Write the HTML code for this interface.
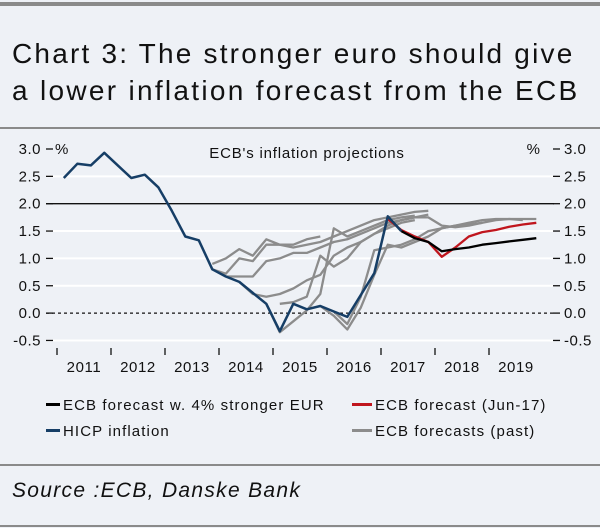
<!DOCTYPE html>
<html><head><meta charset="utf-8"><style>
body{margin:0;background:#eef1f6;}
#wrap{position:relative;width:600px;height:528px;background:#eef1f6;font-family:"Liberation Sans",sans-serif;overflow:hidden}
svg{position:absolute;left:0;top:0}
</style></head><body>
<div id="wrap">
<svg id="s" width="600" height="528">
<rect x="0" y="2" width="600" height="4" fill="#8a8a8a"/>
<text x="12" y="63" font-size="28" letter-spacing="2.2" fill="#111">Chart 3: The stronger euro should give</text>
<text x="12" y="100" font-size="28" letter-spacing="2.3" fill="#111">a lower inflation forecast from the ECB</text>
<rect x="0" y="127" width="600" height="2" fill="#8a8a8a"/>
<g id="plot"></g>
<text x="307" y="158" font-size="15" letter-spacing="0.8" text-anchor="middle" fill="#111">ECB's inflation projections</text>
<g font-size="15" letter-spacing="1.1" fill="#111">
<rect x="46" y="403" width="14" height="3" fill="#000"/>
<text x="63" y="410">ECB forecast w. 4% stronger EUR</text>
<rect x="352" y="403" width="20" height="3" fill="#c0161e"/>
<text x="375" y="410">ECB forecast (Jun-17)</text>
<rect x="46" y="429" width="14" height="3" fill="#163e66"/>
<text x="63" y="436">HICP inflation</text>
<rect x="352" y="429" width="20" height="3" fill="#8c8c8c"/>
<text x="375" y="436">ECB forecasts (past)</text>
</g>
<rect x="0" y="464" width="600" height="2" fill="#8a8a8a"/>
<text x="12" y="497" font-size="21" letter-spacing="1.3" font-style="italic" fill="#111">Source :ECB, Danske Bank</text>
<rect x="0" y="525" width="600" height="2" fill="#8a8a8a"/>
</svg>
</div>
<script>
const yTicks=[3.0,2.5,2.0,1.5,1.0,0.5,0.0,-0.5];
const yTickLabels=["3.0","2.5","2.0","1.5","1.0","0.5","0.0","-0.5"];
const years=[2011,2012,2013,2014,2015,2016,2017,2018,2019];
const hicpStart=2011.125;
const hicp=[2.47,2.73,2.70,2.93,2.70,2.47,2.53,2.30,1.87,1.40,1.33,0.80,0.67,0.57,0.37,0.17,-0.33,0.17,0.07,0.13,0.03,-0.07,0.33,0.73,1.77,1.50];
const redStart=2017.125;
const redVals=[1.72,1.52,1.40,1.30,1.03,1.20,1.40,1.48,1.52,1.58,1.62,1.65];
const blackStart=2017.375;
const blackVals=[1.50,1.37,1.30,1.13,1.17,1.20,1.25,1.28,1.31,1.34,1.37];
const grayStarts=[2013.875,2013.875,2014.125,2014.375,2014.875,2015.125,2015.875,2016.125];
const grayVals=[
[0.90,1.00,1.17,1.05,1.35,1.25,1.25,1.35,1.40],
[0.80,0.72,1.00,0.95,1.25,1.25,1.20,1.25,1.30,1.40,1.50,1.60,1.70,1.75,1.80,1.85,1.87],
[0.67,0.67,0.67,0.95,1.00,1.10,1.10,1.20,1.30,1.35,1.45,1.55,1.65,1.70,1.75,1.80],
[0.57,0.35,0.30,0.35,0.45,0.60,0.70,1.05,1.20,1.30,1.45,1.60,1.70,1.75,1.75,1.60,1.57,1.60,1.65],
[0.17,-0.35,-0.15,0.05,0.35,1.55,1.40,1.50,1.60,1.70,1.75,1.78],
[0.17,0.20,0.30,1.05,0.85,1.00,1.30,1.45,1.55,1.65,1.70],
[0.13,-0.05,-0.30,0.10,0.70,1.25,1.20,1.30,1.40,1.55,1.60,1.62,1.65,1.70,1.72,1.72,1.72],
[0.03,-0.20,0.30,1.15,1.20,1.25,1.35,1.50,1.55,1.60,1.65,1.70,1.72,1.72,1.70]];
const NS="http://www.w3.org/2000/svg";
const g=document.getElementById('plot');
function X(t){return 57+(t-2011)*54;}
function Y(v){return 149+(3-v)*54.7;}
function el(tag,a){const e=document.createElementNS(NS,tag);for(const k in a)e.setAttribute(k,a[k]);g.appendChild(e);return e;}
yTicks.forEach((v,i)=>{
 const y=Y(v);
 let ln=null;
 if(v===2){ln=el('line',{x1:46,x2:554,y1:y,y2:y,stroke:'#111','stroke-width':1.3});}
 else if(v===0){ln=el('line',{x1:46,x2:554,y1:y,y2:y,stroke:'#111','stroke-width':1.3,'stroke-dasharray':'3,3'});}
 else if(v!==3){ln=el('line',{x1:46,x2:554,y1:y,y2:y,stroke:'#fff','stroke-width':2});}
 if(ln){
 
 
 }
 const t1=el('line',{x1:46,x2:53,y1:y,y2:y,stroke:'#111','stroke-width':1.3});
 
 
 const t2=el('line',{x1:553,x2:560,y1:y,y2:y,stroke:'#111','stroke-width':1.3});
 
 
 const l=el('text',{x:41,y:y+5,'font-size':15,'letter-spacing':0.5,'text-anchor':'end',fill:'#111'});l.textContent=yTickLabels[i];
 
 
 const r=el('text',{x:564,y:y+5,'font-size':15,'letter-spacing':0.5,fill:'#111'});r.textContent=yTickLabels[i];
 
 
});
const pl=el('text',{x:55,y:Y(3)+5,'font-size':15,fill:'#111'});pl.textContent='%';


const pr=el('text',{x:540,y:Y(3)+5,'font-size':15,'text-anchor':'end',fill:'#111'});pr.textContent='%';


years.forEach(yr=>{
 const tk=el('line',{x1:X(yr),x2:X(yr),y1:348,y2:355,stroke:'#111','stroke-width':1.3});
 
 
 const t=el('text',{x:X(yr+0.5),y:372,'font-size':15,'letter-spacing':0.6,'text-anchor':'middle',fill:'#111'});t.textContent=yr;
 
 
});
function line(start,vals,color,w,name){
 const pts=vals.map((v,i)=>X(start+i*0.25).toFixed(1)+','+Y(v).toFixed(1)).join(' ');
 const p=el('polyline',{points:pts,fill:'none',stroke:color,'stroke-width':w,'stroke-linejoin':'round'});
 
 
}
grayVals.forEach((vals,i)=>line(grayStarts[i],vals,'#8c8c8c',2.3,'past-forecast-line'));
line(redStart,redVals,'#c0161e',2.3,'jun17-forecast-line');
line(blackStart,blackVals,'#000',2.3,'stronger-eur-forecast-line');
line(hicpStart,hicp,'#163e66',2.5,'hicp-line');
</script>
</body></html>
